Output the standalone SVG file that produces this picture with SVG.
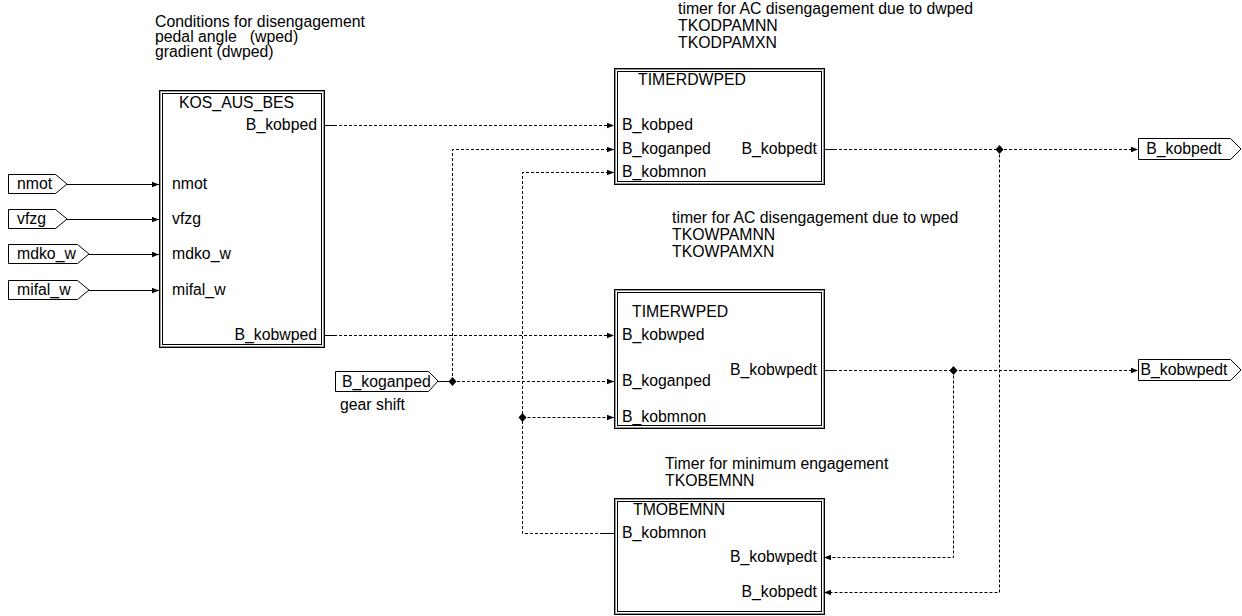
<svg xmlns="http://www.w3.org/2000/svg" width="1242" height="616" viewBox="0 0 1242 616">
<style>
text{font-family:"Liberation Sans",Arial,sans-serif;font-size:15.8px;fill:#000}
.r{text-anchor:end}
.m{text-anchor:middle}
.ob{fill:#fff;stroke:#000;stroke-width:1}
.mid{fill:none;stroke:#999;stroke-width:1}
.ib{fill:none;stroke:#000;stroke-width:1}
.port{fill:#fff;stroke:#000;stroke-width:1}
.s{fill:none;stroke:#000;stroke-width:1}
.d{fill:none;stroke:#000;stroke-width:1;stroke-dasharray:3 2}
.j{fill:#000}
</style>
<defs>
<marker id="a" markerUnits="userSpaceOnUse" viewBox="0 0 8 8" refX="8" refY="4" markerWidth="7" markerHeight="7" orient="auto">
<path d="M0,0.8 L8,4 L0,7.2 z" fill="#000"/>
</marker>
</defs>
<rect width="1242" height="616" fill="#fff"/>

<g id="comments">
<text x="155" y="27">Conditions for disengagement</text>
<text x="155" y="42" xml:space="preserve">pedal angle   (wped)</text>
<text x="155" y="57">gradient (dwped)</text>
<text x="678" y="14">timer for AC disengagement due to dwped</text>
<text x="678" y="31">TKODPAMNN</text>
<text x="678" y="48">TKODPAMXN</text>
<text x="672" y="223">timer for AC disengagement due to wped</text>
<text x="672" y="240">TKOWPAMNN</text>
<text x="672" y="257">TKOWPAMXN</text>
<text x="665" y="469">Timer for minimum engagement</text>
<text x="665" y="486">TKOBEMNN</text>
</g>

<g id="in_nmot">
<path class="port" d="M8.5,174.5 H55.5 L67,184 L55.5,193.5 H8.5 Z"/>
<text x="17" y="189">nmot</text>
</g>
<g id="in_vfzg">
<path class="port" d="M8.5,209.5 H55.5 L67,219 L55.5,228.5 H8.5 Z"/>
<text x="17" y="224">vfzg</text>
</g>
<g id="in_mdko_w">
<path class="port" d="M8.5,244.5 H77.5 L89,254 L77.5,263.5 H8.5 Z"/>
<text x="17" y="259">mdko_w</text>
</g>
<g id="in_mifal_w">
<path class="port" d="M8.5,280.5 H77.5 L89,290 L77.5,299.5 H8.5 Z"/>
<text x="17" y="295">mifal_w</text>
</g>
<g id="in_B_koganped">
<path class="port" d="M335.5,371.5 H428.5 L438,381 L428.5,391.5 H335.5 Z"/>
<text x="342" y="387">B_koganped</text>
<text x="340" y="410">gear shift</text>
</g>

<g id="out_B_kobpedt">
<path class="port" d="M1138.5,138.5 H1230.5 L1241,149 L1230.5,159.5 H1138.5 Z"/>
<text class="m" x="1184" y="154">B_kobpedt</text>
</g>
<g id="out_B_kobwpedt">
<path class="port" d="M1138.5,359.5 H1230.5 L1241,370 L1230.5,380.5 H1138.5 Z"/>
<text class="m" x="1184" y="375">B_kobwpedt</text>
</g>

<g id="KOS_AUS_BES">
<rect class="ob" x="159.5" y="90.5" width="165" height="257"/>
<rect class="mid" x="160.5" y="91.5" width="163" height="255"/>
<rect class="ib" x="162.5" y="93.5" width="159" height="251"/>
<text x="179" y="108">KOS_AUS_BES</text>
<text class="r" x="317" y="130">B_kobped</text>
<text x="172" y="189">nmot</text>
<text x="172" y="224">vfzg</text>
<text x="172" y="259">mdko_w</text>
<text x="172" y="295">mifal_w</text>
<text class="r" x="317" y="340">B_kobwped</text>
</g>

<g id="TIMERDWPED">
<rect class="ob" x="614.5" y="68.5" width="210" height="116"/>
<rect class="mid" x="615.5" y="69.5" width="208" height="114"/>
<rect class="ib" x="617.5" y="71.5" width="204" height="110"/>
<text x="638" y="85">TIMERDWPED</text>
<text x="622" y="130">B_kobped</text>
<text x="622" y="154">B_koganped</text>
<text x="622" y="177">B_kobmnon</text>
<text class="r" x="817" y="154">B_kobpedt</text>
</g>

<g id="TIMERWPED">
<rect class="ob" x="614.5" y="289.5" width="210" height="139"/>
<rect class="mid" x="615.5" y="290.5" width="208" height="137"/>
<rect class="ib" x="617.5" y="292.5" width="204" height="133"/>
<text x="632" y="317">TIMERWPED</text>
<text x="622" y="340">B_kobwped</text>
<text x="622" y="386">B_koganped</text>
<text x="622" y="422">B_kobmnon</text>
<text class="r" x="817" y="375">B_kobwpedt</text>
</g>

<g id="TMOBEMNN">
<rect class="ob" x="614.5" y="498.5" width="210" height="116"/>
<rect class="mid" x="615.5" y="499.5" width="208" height="114"/>
<rect class="ib" x="617.5" y="501.5" width="204" height="110"/>
<text x="633" y="515">TMOBEMNN</text>
<text x="622" y="538">B_kobmnon</text>
<text class="r" x="817" y="562">B_kobwpedt</text>
<text class="r" x="817" y="597">B_kobpedt</text>
</g>

<g id="connectors">
<path class="s" d="M67,184.5 H159" marker-end="url(#a)"/>
<path class="s" d="M67,219.5 H159" marker-end="url(#a)"/>
<path class="s" d="M89,254.5 H159" marker-end="url(#a)"/>
<path class="s" d="M89,290.5 H159" marker-end="url(#a)"/>

<path class="s" d="M324,125.5 H334"/>
<path class="d" d="M334,125.5 H614" marker-end="url(#a)"/>
<path class="s" d="M324,335.5 H334"/>
<path class="d" d="M334,335.5 H614" marker-end="url(#a)"/>

<path class="s" d="M438,381.5 H452"/>
<path class="d" d="M452,381.5 H614" marker-end="url(#a)"/>
<path class="d" d="M452.5,381 V149.5 H614" marker-end="url(#a)"/>

<path class="s" d="M614,533.5 H603"/>
<path class="d" d="M603,533.5 H522.5 V172.5 H614" marker-end="url(#a)"/>
<path class="d" d="M522.5,417.5 H614" marker-end="url(#a)"/>

<path class="s" d="M824,149.5 H834"/>
<path class="d" d="M834,149.5 H1138" marker-end="url(#a)"/>
<path class="d" d="M999.5,149.5 V592.5 H824" marker-end="url(#a)"/>

<path class="s" d="M824,370.5 H834"/>
<path class="d" d="M834,370.5 H1138" marker-end="url(#a)"/>
<path class="d" d="M953.5,370.5 V557.5 H824" marker-end="url(#a)"/>

<polygon class="j" points="452.5,377 456.5,381.5 452.5,386 448.5,381.5"/>
<polygon class="j" points="522.5,413 526.5,417.5 522.5,422 518.5,417.5"/>
<polygon class="j" points="999.5,145 1003.5,149.5 999.5,154 995.5,149.5"/>
<polygon class="j" points="953.5,366 957.5,370.5 953.5,375 949.5,370.5"/>
</g>
</svg>
